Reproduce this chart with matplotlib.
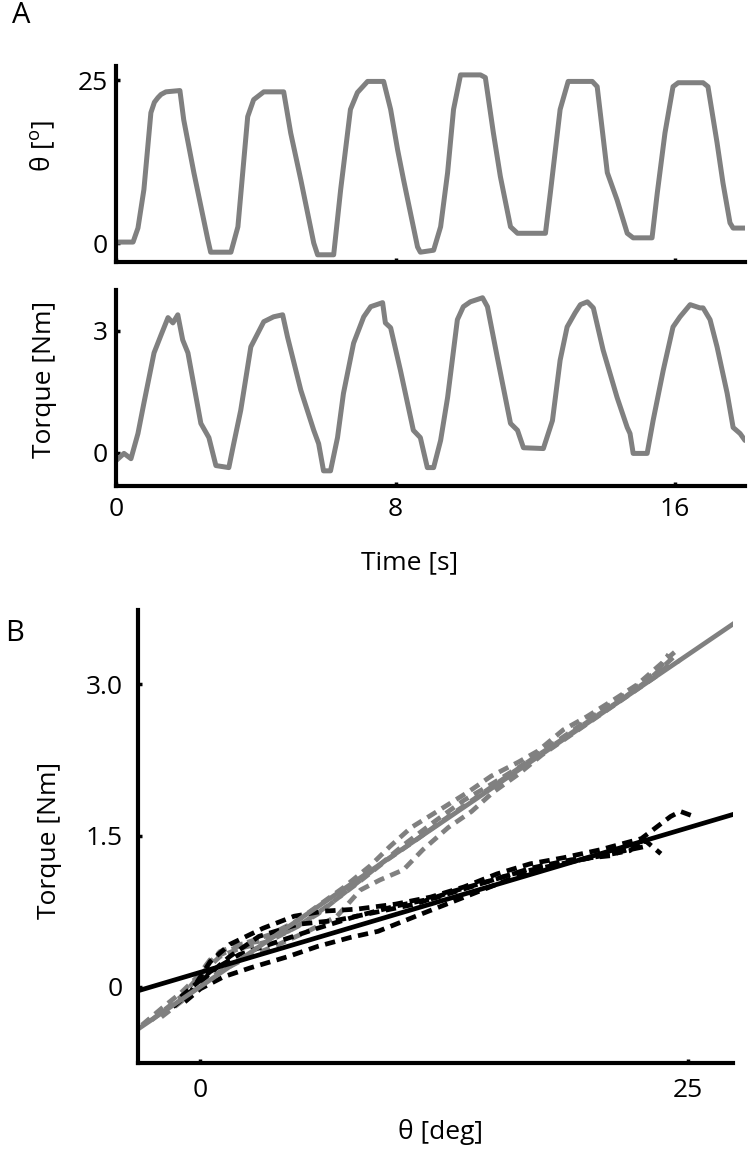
import numpy as np
from matplotlib import pyplot as plt

plt.rcParams['font.family'] = ['Open Sans', 'DejaVu Sans']

# ---- panel A: time traces ----
t_theta = [0.0, 0.49, 0.63, 0.80, 1.00, 1.10, 1.20, 1.29, 1.43, 1.83, 1.94, 2.23, 2.63, 2.71, 3.29,
           3.49, 3.77, 3.94, 4.23, 4.80, 5.00, 5.29, 5.66, 5.77, 6.23, 6.43, 6.71, 6.91, 7.20,
           7.66, 7.86, 8.06, 8.23, 8.63, 8.71, 9.09, 9.29, 9.49, 9.66, 9.86, 10.43, 10.57, 10.80,
           11.00, 11.29, 11.49, 12.29, 12.43, 12.71, 12.94, 13.63, 13.77, 14.06, 14.34, 14.63,
           14.80, 15.34, 15.49, 15.71, 15.94, 16.09, 16.80, 16.94, 17.20, 17.37, 17.57, 17.66, 18.0]
theta = [0.15, 0.15, 2.3, 8.2, 20.0, 21.6, 22.3, 22.8, 23.2, 23.4, 18.9, 10.8, 0.5, -1.4, -1.4,
         2.5, 19.4, 22.0, 23.2, 23.2, 16.9, 9.7, 0.0, -1.8, -1.8, 8.2, 20.5, 23.1, 24.8,
         24.8, 20.5, 14.3, 9.7, -0.6, -1.4, -1.1, 2.5, 10.8, 20.5, 25.8, 25.8, 25.4, 16.9,
         10.2, 2.5, 1.5, 1.5, 7.7, 20.5, 24.8, 24.8, 24.0, 10.8, 6.6, 1.5, 0.8, 0.8, 7.7,
         16.9, 24.0, 24.6, 24.6, 24.0, 15.4, 9.2, 3.1, 2.3, 2.3]

t_torque = [0.0, 0.23, 0.43, 0.63, 0.80, 1.09, 1.29, 1.49, 1.63, 1.77, 1.91, 2.06, 2.43, 2.66,
            2.86, 3.23, 3.37, 3.57, 3.86, 4.23, 4.51, 4.77, 4.91, 5.29, 5.66, 5.80, 5.94, 6.14,
            6.34, 6.51, 6.80, 7.09, 7.29, 7.63, 7.71, 7.86, 8.14, 8.51, 8.71, 8.91, 9.09, 9.29,
            9.49, 9.77, 9.94, 10.14, 10.49, 10.63, 10.91, 11.29, 11.49, 11.66, 12.23, 12.49,
            12.71, 12.91, 13.14, 13.29, 13.49, 13.66, 13.94, 14.34, 14.63, 14.71, 14.80, 15.20,
            15.37, 15.66, 15.94, 16.14, 16.43, 16.71, 16.80, 17.00, 17.20, 17.49, 17.66, 17.86, 18.0]
torque = [-0.20, -0.02, -0.15, 0.47, 1.22, 2.46, 2.90, 3.33, 3.20, 3.40, 2.78, 2.46, 0.72, 0.37,
          -0.32, -0.37, 0.22, 1.04, 2.61, 3.23, 3.35, 3.40, 2.85, 1.54, 0.55, 0.22, -0.45, -0.45,
          0.37, 1.46, 2.70, 3.35, 3.60, 3.70, 3.20, 3.08, 2.03, 0.55, 0.37, -0.37, -0.37, 0.30,
          1.36, 3.28, 3.60, 3.72, 3.82, 3.60, 2.36, 0.72, 0.55, 0.12, 0.10, 0.79, 2.28, 3.10,
          3.45, 3.65, 3.72, 3.57, 2.53, 1.36, 0.62, 0.47, -0.02, -0.02, 0.79, 2.03, 3.10, 3.35,
          3.65, 3.57, 3.57, 3.28, 2.61, 1.46, 0.62, 0.47, 0.30]

# ---- panel B: torque vs angle, two conditions ----
fit_theta = [-3.2, 27.3]
gray_fit = [-0.42, 3.60]
black_fit = [-0.04, 1.71]

black_runs = [
    [(-1.4, -0.2), (-0.5, -0.05), (0.5, 0.25), (1.5, 0.42), (3.2, 0.58), (4.8, 0.70), (6.3, 0.75),
     (8.0, 0.77), (10.0, 0.82), (11.8, 0.89), (13.5, 0.99), (15.2, 1.12), (16.9, 1.22),
     (18.6, 1.28), (20.5, 1.36), (22.6, 1.47), (24.1, 1.69), (24.6, 1.74), (25.3, 1.69)],
    [(-0.8, -0.15), (0.0, -0.02), (1.2, 0.10), (2.6, 0.19), (4.5, 0.30), (6.0, 0.40), (7.7, 0.49),
     (9.1, 0.55), (11.3, 0.72), (13.8, 0.91), (16.4, 1.11), (18.5, 1.22), (21.5, 1.34), (23.0, 1.40)],
    [(-1.0, -0.1), (0.5, 0.15), (2.0, 0.32), (4.0, 0.45), (6.0, 0.58), (8.0, 0.70), (10.0, 0.80),
     (12.0, 0.88), (14.0, 1.0), (16.0, 1.12), (18.0, 1.2), (20.0, 1.28), (22.0, 1.35),
     (22.8, 1.45), (23.6, 1.32)],
    [(0.0, 0.05), (1.5, 0.3), (3.0, 0.5), (5.0, 0.62), (7.0, 0.66), (9.0, 0.74), (11.0, 0.82),
     (13.0, 0.95), (15.0, 1.06), (17.0, 1.18), (19.0, 1.26), (21.0, 1.3), (22.5, 1.42)],
]
gray_runs = [
    [(-3.0, -0.38), (-1.9, -0.2), (-1.0, -0.06), (-0.15, 0.1), (0.5, 0.27), (1.5, 0.36), (2.4, 0.44),
     (3.6, 0.52), (5.0, 0.66), (6.0, 0.8), (7.3, 0.98), (8.7, 1.2), (9.7, 1.39), (10.8, 1.58),
     (12.3, 1.76), (13.7, 1.93), (14.9, 2.09), (16.3, 2.23), (17.3, 2.34), (18.6, 2.55),
     (19.8, 2.68), (21.2, 2.85), (22.4, 3.0), (23.7, 3.22), (24.3, 3.32)],
    [(-2.0, -0.3), (-1.0, -0.15), (0.0, 0.02), (1.0, 0.15), (2.5, 0.3), (4.0, 0.42), (5.5, 0.55),
     (7.0, 0.7), (8.2, 0.96), (9.2, 1.06), (10.4, 1.16), (11.4, 1.36), (12.7, 1.58), (13.9, 1.74),
     (15.0, 1.93), (16.3, 2.11), (17.5, 2.3), (19.0, 2.5), (20.5, 2.7), (22.0, 2.9), (23.5, 3.1),
     (24.0, 3.2)],
    [(-2.5, -0.33), (-1.0, -0.1), (0.0, 0.12), (1.0, 0.3), (2.0, 0.38), (3.5, 0.45), (5.0, 0.6),
     (6.5, 0.8), (8.0, 1.02), (9.5, 1.25), (11.0, 1.45), (12.5, 1.66), (14.0, 1.86), (15.5, 2.06),
     (17.0, 2.26), (18.5, 2.45), (20.0, 2.65), (21.5, 2.84), (23.0, 3.05), (24.3, 3.28), (24.6, 3.22)],
    [(0.3, 0.2), (1.0, 0.35), (2.0, 0.42), (3.0, 0.45), (4.5, 0.55), (6.0, 0.72), (7.5, 0.95),
     (9.0, 1.18), (10.5, 1.42), (12.0, 1.64), (13.5, 1.85), (15.0, 2.02), (16.5, 2.2), (18.0, 2.4),
     (19.5, 2.6), (21.0, 2.8), (22.5, 3.0), (23.5, 3.15), (24.0, 3.3)],
]

GRAY = '#808080'
FS = 19


def style(ax):
    for s in ['top', 'right']:
        ax.spines[s].set_visible(False)
    for s in ['left', 'bottom']:
        ax.spines[s].set_linewidth(3)
    ax.tick_params(direction='in', length=3, width=2.5, labelsize=FS)


fig = plt.figure(figsize=(7.48, 11.54), dpi=100)

ax1 = fig.add_axes([0.155, 0.773, 0.841, 0.170])
ax1.plot(t_theta, theta, color=GRAY, lw=3.6, solid_joinstyle='round', solid_capstyle='round')
ax1.set_xlim(0, 18)
ax1.set_ylim(-2.9, 27.2)
ax1.set_xticks([0, 8, 16])
ax1.set_xticklabels([])
ax1.set_yticks([0, 25])
ax1.set_ylabel(r'θ [$\mathregular{^o}$]', fontsize=FS)
ax1.yaxis.set_label_coords(-0.094, 0.59)
style(ax1)
ax1.tick_params(axis='y', pad=6)

ax2 = fig.add_axes([0.155, 0.579, 0.841, 0.170])
ax2.plot(t_torque, torque, color=GRAY, lw=3.6, solid_joinstyle='round', solid_capstyle='round')
ax2.set_xlim(0, 18)
ax2.set_ylim(-0.82, 4.02)
ax2.set_xticks([0, 8, 16])
ax2.set_yticks([0, 3])
ax2.set_ylabel('Torque [Nm]', fontsize=FS)
ax2.yaxis.set_label_coords(-0.094, 0.54)
ax2.set_xlabel('Time [s]', fontsize=FS)
ax2.xaxis.set_label_coords(0.467, -0.33)
style(ax2)
ax2.tick_params(axis='y', pad=6)
ax2.tick_params(axis='x', pad=8)

ax3 = fig.add_axes([0.1845, 0.079, 0.7955, 0.3925])
for run in gray_runs:
    x, y = zip(*run)
    ax3.plot(x, y, color=GRAY, lw=3.4, ls=(0, (2.2, 1.4)))
for run in black_runs:
    x, y = zip(*run)
    ax3.plot(x, y, color='black', lw=3.4, ls=(0, (2.2, 1.4)))
ax3.plot(fit_theta, gray_fit, color=GRAY, lw=3.4)
ax3.plot(fit_theta, black_fit, color='black', lw=3.4)
ax3.set_xlim(-3.2, 27.3)
ax3.set_ylim(-0.755, 3.74)
ax3.set_xticks([0, 25])
ax3.set_yticks([0, 1.5, 3.0])
ax3.set_yticklabels(['0', '1.5', '3.0'])
ax3.set_ylabel('Torque [Nm]', fontsize=FS)
ax3.yaxis.set_label_coords(-0.128, 0.49)
ax3.set_xlabel('θ [deg]', fontsize=FS)
ax3.xaxis.set_label_coords(0.508, -0.125)
style(ax3)
ax3.tick_params(axis='y', pad=11)
ax3.tick_params(axis='x', pad=11)

fig.text(0.028, 0.987, 'A', fontsize=21, va='center', ha='center')
fig.text(0.02, 0.451, 'B', fontsize=21, va='center', ha='center')

fig.savefig('out.png', dpi=100)
